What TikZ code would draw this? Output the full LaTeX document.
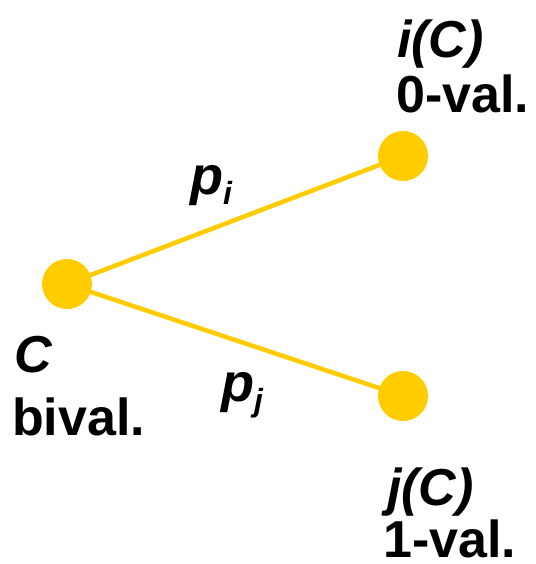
\documentclass[tikz,border=0pt]{standalone}
\usepackage{fontspec}
\setmainfont{Liberation Sans}
\usetikzlibrary{backgrounds}
\definecolor{gold}{HTML}{FFCC00}
\begin{document}
\begin{tikzpicture}[x=1pt,y=-1pt,
  state/.style={circle,fill=gold,minimum size=50pt,inner sep=0pt},
  link/.style={draw=gold,line width=4.5pt},
  lbl/.style={anchor=base west,inner sep=0pt,text depth=0pt,font=\fontsize{52}{60}\selectfont\bfseries},
  plbl/.style={anchor=base west,inner sep=0pt,font=\fontsize{54}{60}\selectfont\bfseries\itshape}]
\useasboundingbox (0,0) rectangle (535,564);
\node[state] (C) at (67,284) {};
\node[state] (I) at (403,156) {};
\node[state] (J) at (403,396) {};
\begin{scope}[on background layer]
\draw[link] (C.center) -- (I.center);
\draw[link] (C.center) -- (J.center);
\end{scope}
\node[lbl] (cname) at (14,372) {\itshape C};
\node[lbl] (cval) at (12,435) {bival.};
\node[lbl] (iname) at (397,58) {\itshape i(C)};
\node[lbl] (ival) at (396,113) {0-val.};
\node[lbl] (jname) at (387,505) {\itshape j(C)};
\node[lbl] (jval) at (383,557) {1-val.};
\node[plbl] (pi) at (190,194) {p\raisebox{-10pt}{\fontsize{32}{36}\selectfont i}};
\node[plbl] (pj) at (221,401) {p\raisebox{-10pt}{\fontsize{32}{36}\selectfont j}};
\end{tikzpicture}
\end{document}
